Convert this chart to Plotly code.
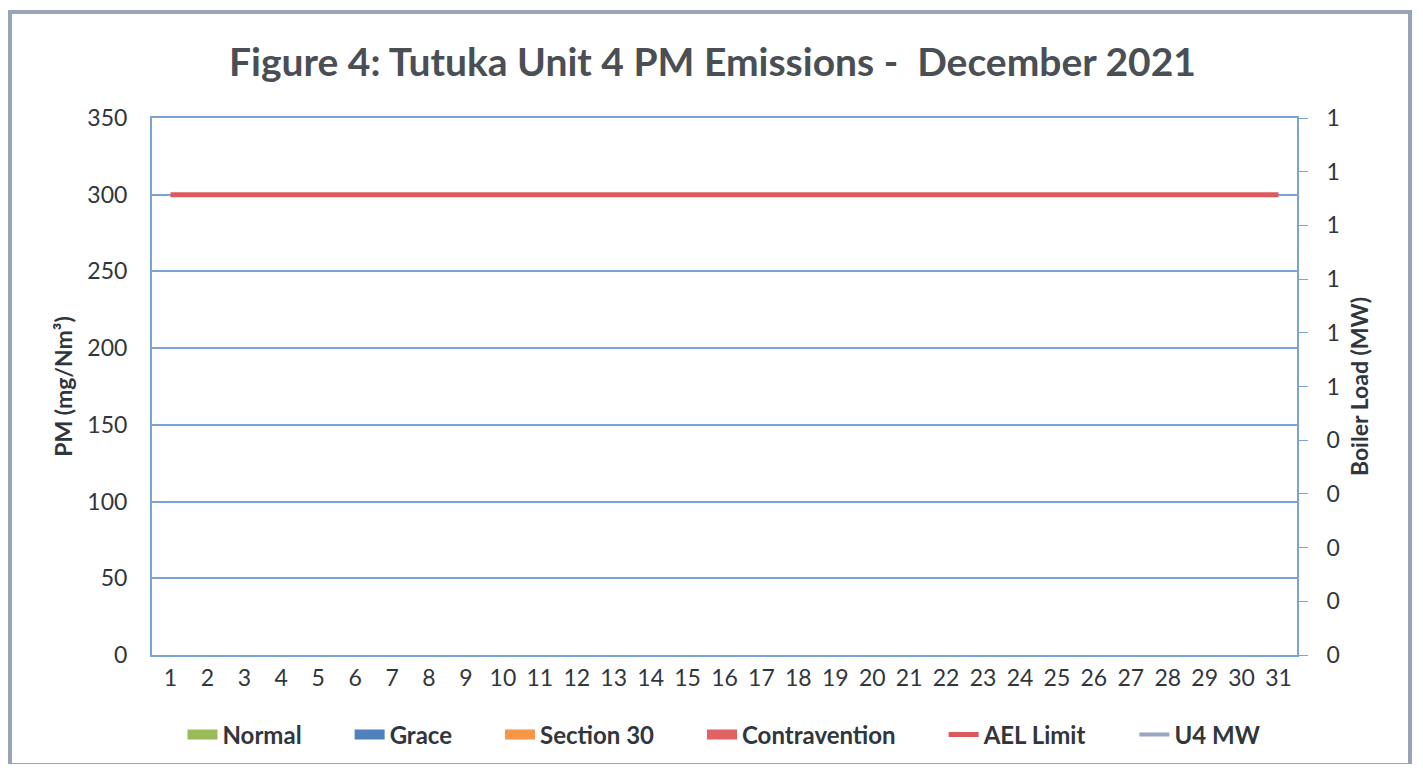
import plotly.graph_objects as go

days = [str(d) for d in range(1, 32)]
normal = [None] * 31
grace = [None] * 31
section30 = [None] * 31
contravention = [None] * 31
ael_limit = [300] * 31
u4_mw = [None] * 31
left_ticks = [0, 50, 100, 150, 200, 250, 300, 350]
right_tickvals = [0, 0.1, 0.2, 0.3, 0.4, 0.5, 0.6, 0.7, 0.8, 0.9, 1.0]
right_ticktext = ["0", "0", "0", "0", "0", "1", "1", "1", "1", "1", "1"]

FONT = "Lato"
TXT = "#30363c"
GRID = "#7aa3d6"
PAD = "&nbsp;" * 7  # spacing between legend entries

# page body has an 8px margin; figure sized to fit the 1423x772 window
W, H = 1407, 756
L, R, T, B = 144, 118, 110, 109

bar_series = [
    ("Normal", normal, "#9bbb59"),
    ("Grace", grace, "#4f81bd"),
    ("Section 30", section30, "#f79646"),
    ("Contravention", contravention, "#e06262"),
]

fig = go.Figure()
for name, vals, col in bar_series:
    fig.add_bar(x=days, y=vals, name=name, marker_color=col,
                legendgroup=name, showlegend=False)
    # legend entry drawn with a wide swatch like the original
    fig.add_scatter(x=days, y=vals, name=f"<b>{name}</b>{PAD}", mode="lines",
                    legendgroup=name, line=dict(color=col, width=15))
fig.add_scatter(x=days, y=ael_limit, name=f"<b>AEL Limit</b>{PAD}", mode="lines",
                line=dict(color="#dc5a5e", width=5))
fig.add_scatter(x=days, y=u4_mw, name="<b>U4 MW</b>", mode="lines", yaxis="y2",
                line=dict(color="#9aa6c2", width=4))

fig.update_layout(
    width=W, height=H,
    paper_bgcolor="white", plot_bgcolor="white",
    margin=dict(l=L, r=R, t=T, b=B, autoexpand=False),
    font=dict(family=FONT, color=TXT, size=23),
    title=dict(text="<b>Figure 4: Tutuka Unit 4 PM Emissions -  December 2021</b>",
               x=0.4895, xanchor="center", xref="paper", y=1 - 54 / H, yanchor="middle",
               font=dict(size=39, color="#4a4f55", family=FONT)),
    xaxis=dict(type="category", range=[-0.5, 30.5], showgrid=False,
               showline=True, mirror=True, linecolor=GRID, linewidth=2, automargin=False,
               ticks="outside", ticklen=1, tickcolor="rgba(0,0,0,0)",
               tickfont=dict(size=23)),
    yaxis=dict(range=[0, 350], tickvals=left_ticks, showgrid=True, gridcolor=GRID,
               gridwidth=1.5, showline=True, linecolor=GRID, linewidth=2,
               ticks="", ticklabelstandoff=18, zeroline=False,
               automargin=False,
               title=dict(text="<b>PM (mg/Nm³)</b>", font=dict(size=23), standoff=8),
               tickfont=dict(size=23)),
    yaxis2=dict(range=[0, 1], overlaying="y", side="right", tickvals=right_tickvals,
                ticktext=right_ticktext, showgrid=False, showline=True,
                linecolor=GRID, linewidth=2, ticks="outside", ticklen=9,
                tickcolor=GRID, ticklabelstandoff=14, zeroline=False, automargin=False,
                title=dict(text="<b>Boiler Load (MW)</b>", font=dict(size=23), standoff=13),
                tickfont=dict(size=23)),
    legend=dict(orientation="h", x=0.5, xanchor="center", y=(H - B - 727) / (H - T - B),
                yanchor="middle",
                font=dict(size=24, color=TXT), bgcolor="rgba(0,0,0,0)",
                traceorder="normal"),
    barmode="group",
    shapes=[dict(type="rect", xref="paper", yref="paper",
                 x0=(2 - L) / (W - L - R), x1=(1402 - L) / (W - L - R),
                 y0=(H - B - 757) / (H - T - B), y1=(H - B - 4) / (H - T - B),
                 line=dict(color="#9aa4b8", width=4), layer="below")],
)

fig.write_html("out.html")
